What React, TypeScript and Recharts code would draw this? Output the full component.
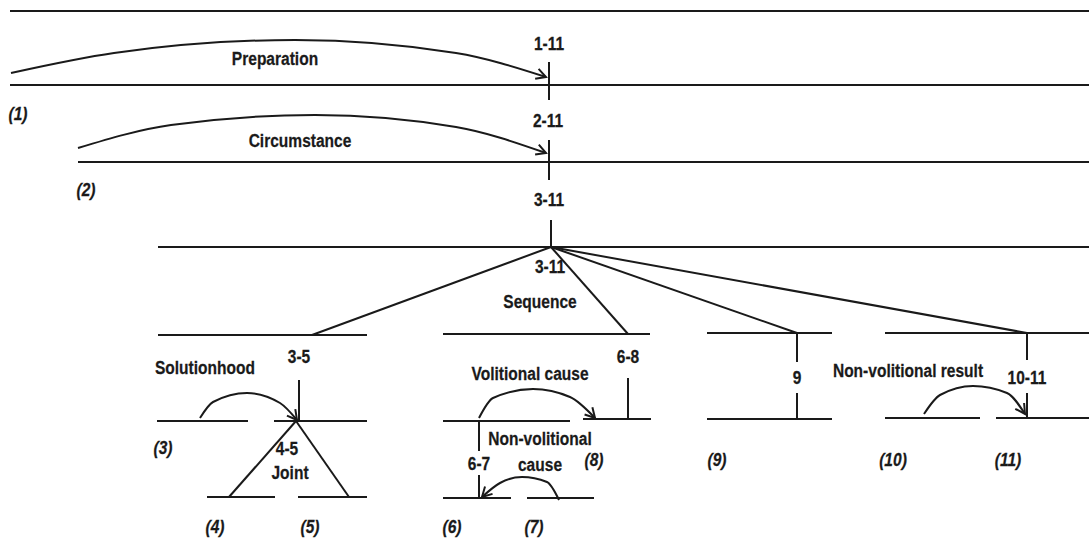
import React from 'react';
import { ComposedChart, XAxis, YAxis, Line, Scatter, ReferenceLine } from 'recharts';

const W = 1089;
const H = 539;

// horizontal text-span lines
const spanLines = [
  { x1: 10, y1: 11, x2: 1089, y2: 11 },
  { x1: 10, y1: 85, x2: 1089, y2: 85 },
  { x1: 78, y1: 162, x2: 1089, y2: 162 },
  { x1: 158, y1: 247, x2: 1089, y2: 247 },
  { x1: 158, y1: 335, x2: 367, y2: 335 },
  { x1: 443, y1: 334, x2: 650, y2: 334 },
  { x1: 707, y1: 333, x2: 832, y2: 333 },
  { x1: 885, y1: 333, x2: 1089, y2: 333 },
  { x1: 157, y1: 421, x2: 248, y2: 421 },
  { x1: 274, y1: 421, x2: 367, y2: 421 },
  { x1: 443, y1: 421, x2: 570, y2: 421 },
  { x1: 583, y1: 419, x2: 651, y2: 419 },
  { x1: 707, y1: 419, x2: 832, y2: 419 },
  { x1: 885, y1: 418, x2: 980, y2: 418 },
  { x1: 996, y1: 418, x2: 1089, y2: 418 },
  { x1: 207, y1: 497, x2: 275, y2: 497 },
  { x1: 298, y1: 497, x2: 367, y2: 497 },
  { x1: 443, y1: 498, x2: 511, y2: 498 },
  { x1: 527, y1: 498, x2: 594, y2: 498 },
];

// vertical nucleus stems
const stemLines = [
  { x1: 549, y1: 62, x2: 549, y2: 100 },
  { x1: 549, y1: 140, x2: 549, y2: 180 },
  { x1: 551, y1: 220, x2: 551, y2: 247 },
  { x1: 299, y1: 380, x2: 299, y2: 421 },
  { x1: 628, y1: 378, x2: 628, y2: 419 },
  { x1: 797, y1: 333, x2: 797, y2: 362 },
  { x1: 797, y1: 393, x2: 797, y2: 419 },
  { x1: 1027, y1: 333, x2: 1027, y2: 360 },
  { x1: 1027, y1: 393, x2: 1027, y2: 418 },
  { x1: 479, y1: 421, x2: 479, y2: 451 },
  { x1: 479, y1: 475, x2: 479, y2: 498 },
];

// multinuclear branch lines
const branchLines = [
  { x1: 551, y1: 247, x2: 312, y2: 335 },
  { x1: 551, y1: 247, x2: 628, y2: 334 },
  { x1: 551, y1: 247, x2: 797, y2: 333 },
  { x1: 551, y1: 247, x2: 1027, y2: 333 },
  { x1: 296, y1: 421, x2: 229, y2: 497 },
  { x1: 296, y1: 421, x2: 349, y2: 497 },
];

// relation arcs (satellite -> nucleus)
const preparationArc = [
  { x: 11, y: 73 }, { x: 114, y: 53 }, { x: 295, y: 40 }, { x: 456, y: 53 }, { x: 546, y: 77 },
];
const circumstanceArc = [
  { x: 78, y: 148 }, { x: 171, y: 125 }, { x: 315, y: 115 }, { x: 456, y: 127 }, { x: 546, y: 153 },
];
const solutionhoodArc = [
  { x: 200, y: 418 }, { x: 213, y: 402 }, { x: 247, y: 393 }, { x: 280, y: 403 }, { x: 297, y: 420 },
];
const volitionalArc = [
  { x: 479, y: 418 }, { x: 493, y: 398 }, { x: 533, y: 389 }, { x: 570, y: 397 }, { x: 595, y: 418 },
];
const nonVolCauseArc = [
  { x: 482, y: 497 }, { x: 500, y: 483 }, { x: 522, y: 477 }, { x: 547, y: 482 }, { x: 559, y: 500 },
];
const nonVolResultArc = [
  { x: 924, y: 414 }, { x: 940, y: 395 }, { x: 973, y: 386 }, { x: 1007, y: 393 }, { x: 1025, y: 414 },
];

const arcs = [
  { id: 'prep', points: preparationArc, arrowAt: 'end' },
  { id: 'circ', points: circumstanceArc, arrowAt: 'end' },
  { id: 'sol', points: solutionhoodArc, arrowAt: 'end' },
  { id: 'vol', points: volitionalArc, arrowAt: 'end' },
  { id: 'nvc', points: nonVolCauseArc, arrowAt: 'start' },
  { id: 'nvr', points: nonVolResultArc, arrowAt: 'end' },
];

// span labels
const spanLabels = [
  { x: 549, y: 44, text: '1-11' },
  { x: 548, y: 121, text: '2-11' },
  { x: 549, y: 200, text: '3-11' },
  { x: 550, y: 267, text: '3-11' },
  { x: 299, y: 357, text: '3-5' },
  { x: 287, y: 449, text: '4-5' },
  { x: 628, y: 357, text: '6-8' },
  { x: 479, y: 464, text: '6-7' },
  { x: 797, y: 378, text: '9' },
  { x: 1027, y: 378, text: '10-11' },
];

// relation names
const relationLabels = [
  { x: 275, y: 59, text: 'Preparation' },
  { x: 300, y: 141, text: 'Circumstance' },
  { x: 540, y: 302, text: 'Sequence' },
  { x: 205, y: 368, text: 'Solutionhood' },
  { x: 290, y: 473, text: 'Joint' },
  { x: 530, y: 374, text: 'Volitional cause' },
  { x: 540, y: 439, text: 'Non-volitional' },
  { x: 540, y: 465, text: 'cause' },
  { x: 908, y: 371, text: 'Non-volitional result' },
];

// unit numbers
const unitLabels = [
  { x: 18, y: 114, text: '(1)' },
  { x: 86, y: 190, text: '(2)' },
  { x: 163, y: 448, text: '(3)' },
  { x: 215, y: 527, text: '(4)' },
  { x: 310, y: 527, text: '(5)' },
  { x: 452, y: 527, text: '(6)' },
  { x: 534, y: 527, text: '(7)' },
  { x: 594, y: 460, text: '(8)' },
  { x: 717, y: 460, text: '(9)' },
  { x: 893, y: 460, text: '(10)' },
  { x: 1008, y: 460, text: '(11)' },
];

const INK = '#1a1a1a';
const FONT = "'Liberation Sans', Arial, Helvetica, sans-serif";

const makeText = (italic: boolean) => (props: any) => {
  const { cx, cy, payload } = props;
  if (cx == null || cy == null) return <g />;
  return (
    <text
      transform={`translate(${cx},${cy}) scale(0.84,1)`}
      x={0}
      y={0}
      textAnchor="middle"
      dominantBaseline="central"
      fontFamily={FONT}
      fontWeight={700}
      fontStyle={italic ? 'italic' : 'normal'}
      fontSize={18.5}
      fill={INK}
      stroke={INK}
      strokeWidth={0.25}
    >
      {payload.text}
    </text>
  );
};

const makeArrowDot = (points: { x: number; y: number }[], arrowAt: string) => (props: any) => {
  const { cx, cy, index } = props;
  const n = points.length;
  const target = arrowAt === 'start' ? 0 : n - 1;
  if (index !== target || cx == null) return <g key={`d${index}`} />;
  const a = arrowAt === 'start' ? points[1] : points[n - 2];
  const b = points[target];
  const dx = b.x - a.x;
  const dy = (b.y - a.y) * 1.3;
  const ang = Math.atan2(dy, dx);
  const len = 11;
  const spread = 0.5;
  const p1x = cx - len * Math.cos(ang - spread);
  const p1y = cy - len * Math.sin(ang - spread);
  const p2x = cx - len * Math.cos(ang + spread);
  const p2y = cy - len * Math.sin(ang + spread);
  return (
    <path
      key={`d${index}`}
      d={`M${p1x},${p1y}L${cx},${cy}L${p2x},${p2y}`}
      fill="none"
      stroke={INK}
      strokeWidth={2}
    />
  );
};

const allLines = [...spanLines, ...stemLines, ...branchLines];

export default function App() {
  return (
    <div style={{ width: W, height: H, background: '#fff' }}>
      <style>{`body{margin:0;background:#fff;}`}</style>
      <ComposedChart width={W} height={H} margin={{ top: 0, right: 0, bottom: 0, left: 0 }}>
        <XAxis type="number" dataKey="x" domain={[0, W]} hide allowDataOverflow />
        <YAxis type="number" dataKey="y" domain={[0, H]} reversed hide allowDataOverflow />
        {allLines.map((s, i) => (
          <ReferenceLine
            key={`l${i}`}
            segment={[{ x: s.x1, y: s.y1 }, { x: s.x2, y: s.y2 }]}
            stroke={INK}
            strokeWidth={2}
            ifOverflow="visible"
          />
        ))}
        {arcs.map((a) => (
          <Line
            key={a.id}
            data={a.points}
            dataKey="y"
            type="monotone"
            stroke={INK}
            strokeWidth={2}
            dot={makeArrowDot(a.points, a.arrowAt)}
            activeDot={false}
            isAnimationActive={false}
            legendType="none"
          />
        ))}
        <Scatter data={spanLabels} dataKey="y" shape={makeText(false)} isAnimationActive={false} />
        <Scatter data={relationLabels} dataKey="y" shape={makeText(false)} isAnimationActive={false} />
        <Scatter data={unitLabels} dataKey="y" shape={makeText(true)} isAnimationActive={false} />
      </ComposedChart>
    </div>
  );
}
